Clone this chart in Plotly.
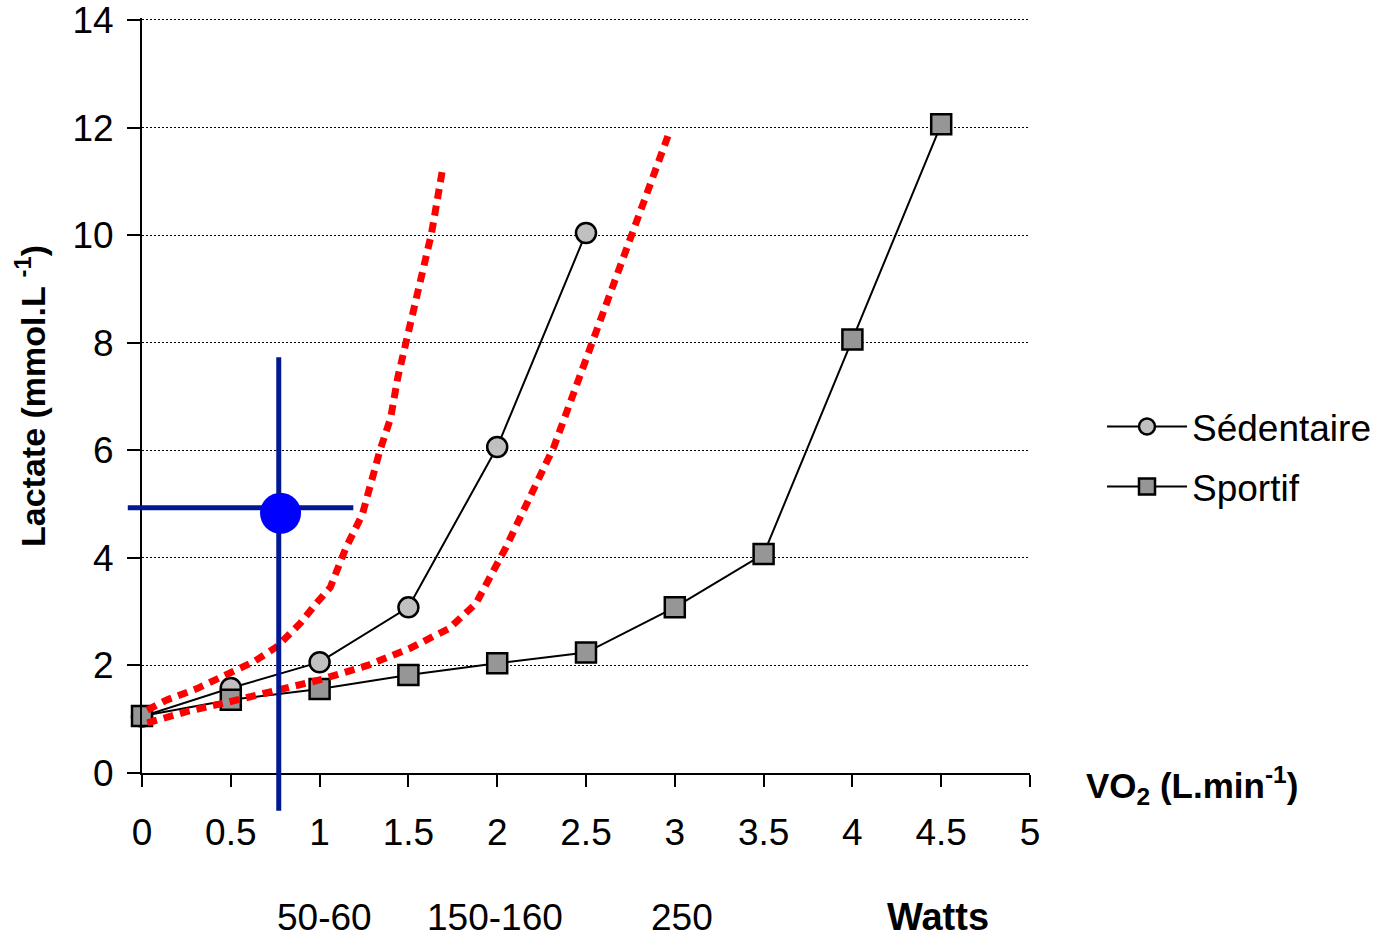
import plotly.graph_objects as go

# ---------------- data ----------------
vo2 = [0, 0.5, 1, 1.5, 2, 2.5, 3, 3.5, 4, 4.5]
sedentaire = [1.05, 1.58, 2.06, 3.08, 6.06, 10.04]
sportif = [1.06, 1.36, 1.56, 1.82, 2.04, 2.24, 3.08, 4.07, 8.06, 12.06]

red_left_x = [0.03, 0.14, 0.31, 0.48, 0.63, 0.76, 0.89, 0.98, 1.06, 1.15, 1.24, 1.34, 1.40, 1.44, 1.49, 1.53, 1.63, 1.69]
red_left_y = [1.17, 1.36, 1.57, 1.82, 2.07, 2.35, 2.78, 3.15, 3.45, 4.2, 4.8, 6.0, 6.6, 7.35, 8.05, 8.55, 10.03, 11.18]

red_right_x = [0.03, 0.25, 0.5, 0.74, 1.0, 1.27, 1.51, 1.73, 1.88, 2.05, 2.2, 2.32, 2.43, 2.54, 2.65, 2.77, 2.88, 2.97]
red_right_y = [0.93, 1.14, 1.33, 1.51, 1.73, 2.0, 2.32, 2.69, 3.15, 4.2, 5.2, 6.07, 7.06, 8.05, 9.04, 10.03, 11.02, 11.92]

cross_v_x = [0.77, 0.77]
cross_v_y = [-0.7, 7.73]
cross_h_x = [-0.08, 1.19]
cross_h_y = [4.93, 4.93]
dot_x = [0.78]
dot_y = [4.83]

watts_vo2 = [1.03, 1.99, 3.04]
watts_labels = ["50-60", "150-160", "250"]
watts_title_x = 4.48

x_ticks = [0, 0.5, 1, 1.5, 2, 2.5, 3, 3.5, 4, 4.5, 5]
y_ticks = [0, 2, 4, 6, 8, 10, 12, 14]

# ---------------- layout geometry (pixels) ----------------
W, H = 1377, 944
PL, PR, PT, PB = 142, 1030, 20, 773  # plot area edges (x=0..5, y=0..14)
XMIN, XMAX, YMIN, YMAX = 0, 5, 0, 14
YPAD = 0.04  # tiny headroom so the top gridline is kept

xu = (PR - PL) / (XMAX - XMIN)
yu = (PB - PT) / (YMAX - YMIN)
PT2 = PT - YPAD * yu
xdom = [PL / W, PR / W]
ydom = [1 - PB / H, 1 - PT2 / H]
x2range = [XMIN - PL / xu, XMAX + (W - PR) / xu]
y2range = [YMIN - (H - PB) / yu, YMAX + PT / yu]

FONT = "Liberation Sans, Arial, sans-serif"

fig = go.Figure()

fig.add_trace(go.Scatter(
    x=vo2[:len(sedentaire)], y=sedentaire, name="Sédentaire", mode="lines+markers",
    line=dict(color="black", width=2),
    marker=dict(symbol="circle", size=20, color="#c0c0c0", line=dict(color="black", width=2.5)),
    legend="legend", cliponaxis=False,
))
fig.add_trace(go.Scatter(
    x=vo2, y=sportif, name="Sportif", mode="lines+markers",
    line=dict(color="black", width=2),
    marker=dict(symbol="square", size=20, color="#969696", line=dict(color="black", width=2.5)),
    legend="legend2", cliponaxis=False,
))
for rx, ry in [(red_left_x, red_left_y), (red_right_x, red_right_y)]:
    fig.add_trace(go.Scatter(
        x=rx, y=ry, mode="lines", showlegend=False,
        line=dict(color="#ff0000", width=7, dash="10px,7px"),
    ))

# crosshair on a full-paper subplot with identical scale
for cx, cy in [(cross_v_x, cross_v_y), (cross_h_x, cross_h_y)]:
    fig.add_trace(go.Scatter(
        x=cx, y=cy, mode="lines", showlegend=False, xaxis="x2", yaxis="y2",
        line=dict(color="#001891", width=5),
    ))
fig.add_trace(go.Scatter(
    x=dot_x, y=dot_y, mode="markers", showlegend=False, xaxis="x2", yaxis="y2",
    marker=dict(size=41, color="#0000ff", line=dict(width=0)),
))

LEG = dict(xanchor="left", yanchor="middle",
           font=dict(size=37, family=FONT, color="black"), bgcolor="rgba(0,0,0,0)",
           itemwidth=80, borderwidth=0)

fig.update_layout(
    width=W, height=H,
    margin=dict(l=0, r=0, t=0, b=0, pad=0),
    paper_bgcolor="white", plot_bgcolor="rgba(0,0,0,0)",
    font=dict(family=FONT, color="black", size=37),
    xaxis=dict(
        domain=xdom, range=[XMIN, XMAX], tickvals=x_ticks, ticktext=[f"{v:g}" for v in x_ticks],
        showline=True, linecolor="black", linewidth=2, showgrid=False, zeroline=False,
        ticks="outside", ticklen=12, tickwidth=2, tickcolor="black",
        tickfont=dict(size=37, family=FONT, color="black"), ticklabelstandoff=14,
        ticklabeloverflow="allow", automargin=False, fixedrange=True,
    ),
    yaxis=dict(
        domain=ydom, range=[YMIN, YMAX + YPAD], tickvals=y_ticks,
        showline=True, linecolor="black", linewidth=2, zeroline=False,
        showgrid=True, gridcolor="black", gridwidth=1, griddash="2px,2px",
        ticks="outside", ticklen=13, tickwidth=2, tickcolor="black",
        tickfont=dict(size=37, family=FONT, color="black"), ticklabelstandoff=6,
        ticklabeloverflow="allow", automargin=False, fixedrange=True,
    ),
    xaxis2=dict(domain=[0, 1], range=x2range, anchor="y2", visible=False, fixedrange=True),
    yaxis2=dict(domain=[0, 1], range=y2range, anchor="x2", visible=False, fixedrange=True),
    legend=dict(x=1102 / W, y=1 - 427 / H, **LEG),
    legend2=dict(x=1102 / W, y=1 - 487 / H, **LEG),
    showlegend=True,
)

annotations = [
    dict(text="<b>Lactate (mmol.L <sup>-1</sup>)</b>", textangle=-90,
         xref="paper", yref="paper", x=30 / W, y=1 - 396 / H, xanchor="center", yanchor="middle",
         showarrow=False, font=dict(size=34, family=FONT, color="black")),
    dict(text="<b>VO<sub>2</sub> (L.min<sup>-1</sup>)</b>",
         xref="paper", yref="paper", x=1084 / W, y=1 - 785 / H, xanchor="left", yanchor="middle",
         showarrow=False, font=dict(size=35, family=FONT, color="black")),
]
for xv, lab in zip(watts_vo2, watts_labels):
    annotations.append(dict(text=lab, xref="x", yref="paper", x=xv, y=1 - 917 / H,
                            xanchor="center", yanchor="middle", showarrow=False,
                            font=dict(size=37, family=FONT, color="black")))
annotations.append(dict(text="<b>Watts</b>", xref="x", yref="paper", x=watts_title_x, y=1 - 917 / H,
                        xanchor="center", yanchor="middle", showarrow=False,
                        font=dict(size=38, family=FONT, color="black")))
fig.update_layout(annotations=annotations)

fig.write_html(
    "out.html", config={"displayModeBar": False},
    post_script="document.body.style.margin='0px';document.body.style.overflow='hidden';"
                "document.documentElement.style.overflow='hidden';",
)
